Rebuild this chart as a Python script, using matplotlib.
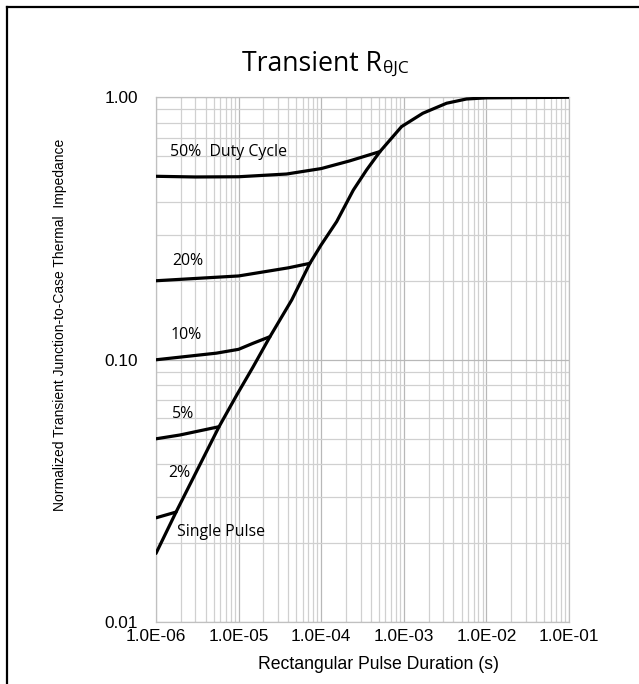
import matplotlib
matplotlib.use("Agg")
import matplotlib.pyplot as plt
from matplotlib.lines import Line2D
from matplotlib.ticker import LogLocator, NullFormatter, FuncFormatter

# pulse duration (s) and normalized Zth for each duty cycle
single_t = [1e-6, 1.75e-6, 5.8e-6, 9.5e-6, 1.5e-5, 2.4e-5, 4.4e-5, 7.3e-5, 1e-4,
            1.54e-4, 2.45e-4, 3.55e-4, 5.15e-4, 9.4e-4, 1.7e-3, 3.3e-3, 5.75e-3, 1e-2, 1e-1]
single_z = [0.0183, 0.0263, 0.0556, 0.0734, 0.094, 0.1225, 0.169, 0.233, 0.274,
            0.336, 0.443, 0.529, 0.621, 0.773, 0.869, 0.949, 0.985, 0.995, 1.0]

d50_t = [1e-6, 3e-6, 1e-5, 3.8e-5, 1e-4, 2.2e-4, 5.15e-4]
d50_z = [0.5, 0.497, 0.498, 0.51, 0.535, 0.572, 0.621]

d20_t = [1e-6, 1e-5, 4e-5, 7.3e-5]
d20_z = [0.2, 0.2086, 0.224, 0.233]

d10_t = [1e-6, 5.4e-6, 1e-5, 1.5e-5, 2.4e-5]
d10_z = [0.1, 0.106, 0.1096, 0.1156, 0.1225]

d5_t = [1e-6, 1.95e-6, 5.8e-6]
d5_z = [0.05, 0.0517, 0.0556]

d2_t = [1e-6, 1.75e-6]
d2_z = [0.025, 0.0263]

curve_labels = ["50%  Duty Cycle", "20%", "10%", "5%", "2%", "Single Pulse"]
label_x = [1.48e-6, 1.56e-6, 1.48e-6, 1.55e-6, 1.41e-6, 1.78e-6]
label_y = [0.60, 0.23, 0.12, 0.0599, 0.0359, 0.0213]

fig = plt.figure(figsize=(6.39, 6.84), dpi=100)
ax = fig.add_axes([0.2441, 0.0902, 0.6463, 0.7676])

for t, z in [(single_t, single_z), (d50_t, d50_z), (d20_t, d20_z),
             (d10_t, d10_z), (d5_t, d5_z), (d2_t, d2_z)]:
    ax.plot(t, z, color="black", lw=2.3, solid_capstyle="round", solid_joinstyle="round", zorder=3)

ax.set_xscale("log")
ax.set_yscale("log")
ax.set_xlim(1e-6, 1e-1)
ax.set_ylim(0.01, 1.0)

ax.xaxis.set_minor_locator(LogLocator(base=10, subs=range(2, 10)))
ax.yaxis.set_minor_locator(LogLocator(base=10, subs=range(2, 10)))
ax.xaxis.set_minor_formatter(NullFormatter())
ax.yaxis.set_minor_formatter(NullFormatter())
ax.xaxis.set_major_formatter(FuncFormatter(lambda v, p: "{:.1E}".format(v)))
ax.yaxis.set_major_formatter(FuncFormatter(lambda v, p: "{:.2f}".format(v)))

ax.grid(which="major", color="#b8b8b8", lw=0.9)
ax.grid(which="minor", color="#d0d0d0", lw=0.9)
for s in ax.spines.values():
    s.set_color("#c0c0c0")
    s.set_linewidth(0.9)

ax.tick_params(which="both", length=0)
ax.tick_params(axis="x", pad=4.5)
ax.tick_params(axis="y", pad=13)
for lab in ax.get_xticklabels() + ax.get_yticklabels():
    lab.set_fontfamily("Liberation Sans")
    lab.set_fontsize(12.4)

ax.set_xlabel("Rectangular Pulse Duration (s)", fontsize=12.7, family="Liberation Sans")
ax.set_ylabel("Normalized Transient Junction-to-Case Thermal  Impedance", fontsize=10,
              family="Liberation Sans")
ax.xaxis.set_label_coords(0.54, -0.064)
ax.yaxis.set_label_coords(-0.2155, 0.566)

for txt, x, y in zip(curve_labels, label_x, label_y):
    ax.text(x, y, txt, fontsize=11.4, family="Open Sans", va="baseline", ha="left", zorder=4)

# title with subscript
fig.text(381.7 / 639, 1 - 70.7 / 684, "Transient R", fontsize=19.2, family="Open Sans",
         ha="right", va="baseline")
fig.text(382.7 / 639, 1 - 72.7 / 684, "\u03b8JC", fontsize=12.5, family="Open Sans",
         ha="left", va="baseline")

# frame lines
fig.add_artist(Line2D([6.5 / 639, 6.5 / 639], [0, 1 - 6.5 / 684], transform=fig.transFigure,
                      color="black", lw=1.6))
fig.add_artist(Line2D([6.5 / 639, 1], [1 - 6.5 / 684, 1 - 6.5 / 684], transform=fig.transFigure,
                      color="black", lw=1.6))

fig.savefig("out.png", dpi=100)
